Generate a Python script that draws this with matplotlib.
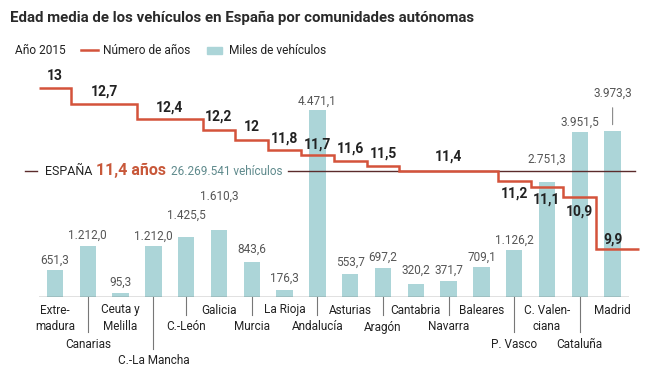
import numpy as np
import matplotlib.pyplot as plt

plt.rcParams['font.family'] = ['Liberation Sans Narrow', 'Roboto', 'DejaVu Sans']

# Data (Año 2015)
regions = ["Extre-\nmadura", "Canarias", "Ceuta y\nMelilla", "C.-La Mancha", "C.-León",
           "Galicia", "Murcia", "La Rioja", "Andalucía", "Asturias", "Aragón",
           "Cantabria", "Navarra", "Baleares", "P. Vasco", "C. Valen-\nciana",
           "Cataluña", "Madrid"]
vehicles = [651.3, 1212.0, 95.3, 1212.0, 1425.5, 1610.3, 843.6, 176.3, 4471.1,
            553.7, 697.2, 320.2, 371.7, 709.1, 1126.2, 2751.3, 3951.5, 3973.3]
years = [13, 12.7, 12.7, 12.4, 12.4, 12.2, 12, 11.8, 11.7, 11.6, 11.5,
         11.4, 11.4, 11.4, 11.2, 11.1, 10.9, 9.9]
spain_years = 11.4
spain_vehicles = "26.269.541"

# layout tweaks (pixels)
label_row = [1, 3, 1, 4, 2, 1, 2, 1, 2, 1, 2, 1, 2, 1, 3, 1, 3, 1]
bar_label_gap = [10, 11, 11, 10, 22, 33, 12, 11, 9, 12, 11, 13, 11, 10, 10, 23, 10, 38]
year_label_gap = [12, 12, 12, 12.5, 13, 12, 11, 12.5, 12, 14, -12, -13, -15, 9]

RED = '#d4533b'
TEAL = '#acd5d8'
DARK = '#222222'
GRAY = '#555555'


def es(v, dec=1):
    s = f"{v:,.{dec}f}"
    return s.replace(',', 'X').replace('.', ',').replace('X', '.')


def es_years(v):
    return f"{v:g}".replace('.', ',')


W, H, DPI = 664, 371, 100
PT = 0.72  # points per pixel
fig = plt.figure(figsize=(W / DPI, H / DPI), dpi=DPI)
renderer = fig.canvas.get_renderer()
x0, x1 = 38.6, 629.0
base_px, top_px = 297, 88
ax = fig.add_axes([x0 / W, (H - base_px) / H, (x1 - x0) / W, (base_px - top_px) / H])
ax.set_xlim(-0.5, 17.5)
ax.set_ylim(0, 5000)
ax.axis('off')
ax2 = ax.twinx()
ax2.set_ylim(13 - (base_px - top_px) / 51.875, 13)
ax2.axis('off')
ax_h = base_px - top_px

x = np.arange(len(regions))

# bars
ax.bar(x, vehicles, width=0.5, color=TEAL, zorder=2)
ax.axhline(0, color='#666666', lw=1, zorder=3)
for i, v in enumerate(vehicles):
    if regions[i] == "Madrid":
        ax.annotate(es(v), xy=(i, v), xytext=(0, bar_label_gap[i] * PT),
                    textcoords='offset points', ha='center', va='center',
                    fontsize=8.5, color=GRAY,
                    arrowprops=dict(arrowstyle='-', color='#888888', lw=0.8,
                                    shrinkA=4, shrinkB=4.5))
    else:
        ax.annotate(es(v), xy=(i, v), xytext=(0, bar_label_gap[i] * PT),
                    textcoords='offset points', ha='center', va='center',
                    fontsize=8.5, color=GRAY)

# category labels with tick lines
xt = ax.get_xaxis_transform()
for i, name in enumerate(regions):
    r = label_row[i]
    for k, line in enumerate(name.split('\n')):
        row_px = 13 + (r + k - 1) * 17
        ax.annotate(line, xy=(i, 0), xycoords=xt, xytext=(0, -row_px * PT),
                    textcoords='offset points', ha='center', va='center',
                    fontsize=8.5, color=DARK)
    if r > 1:
        end_px = 13 + (r - 1) * 17 - 12
        ax.plot([i, i], [0, -end_px / ax_h], transform=xt, color='#777777',
                lw=0.8, clip_on=False)

# Spain average line (short dash on the left)
ax2.axhline(spain_years, xmin=(25 - x0) / (x1 - x0), xmax=(37 - x0) / (x1 - x0),
            color='#5b2b2b', lw=1, zorder=4, clip_on=False)

# step line
edges = np.r_[x - 0.5, x[-1] + 0.8]
ax2.stairs(years, edges, baseline=None, color=RED, lw=1.8, zorder=5, clip_on=False)

# year labels (one per run of equal values)
groups = []
start = 0
for i in range(1, len(years) + 1):
    if i == len(years) or years[i] != years[start]:
        groups.append((start, i - 1, years[start]))
        start = i
for (a, b, v), gap in zip(groups, year_label_gap):
    ax2.annotate(es_years(v), xy=((a + b) / 2, v), xytext=(0, gap * PT),
                 textcoords='offset points', ha='center', va='center',
                 fontsize=10, fontweight='bold', color=DARK, zorder=6)

# title (fit to reference width) and legend
title = fig.text(10 / W, 1 - 22 / H,
                 "Edad media de los vehículos en España por comunidades autónomas",
                 fontsize=13, fontweight='bold', color='#2a2a2a', va='baseline')
tw = title.get_window_extent(renderer).width
title.set_fontsize(13 * 466 / tw)

fig.text(15 / W, 1 - 54.5 / H, "Año 2015", fontsize=8.6, color=DARK, va='baseline')
fig.add_artist(plt.Line2D([81 / W, 98 / W], [1 - 50 / H, 1 - 50 / H], color=RED, lw=1.8))
fig.text(103 / W, 1 - 54.5 / H, "Número de años", fontsize=8.6, color=DARK, va='baseline')
fig.add_artist(plt.Rectangle((207 / W, 1 - 54 / H), 15 / W, 7.5 / H, color=TEAL,
                             transform=fig.transFigure))
fig.text(229 / W, 1 - 54.5 / H, "Miles de vehículos", fontsize=8.6, color=DARK, va='baseline')

# ESPAÑA row, chained text then the reference line
yb = 1 - 175 / H
t1 = fig.text(45 / W, yb, "ESPAÑA", fontsize=9, color=DARK, va='baseline')
e = t1.get_window_extent(renderer)
t2 = fig.text((e.x1 + 4) / W, yb, f"{es_years(spain_years)} años", fontsize=11.5,
              fontweight='bold', color='#c8583a', va='baseline')
e = t2.get_window_extent(renderer)
t3 = fig.text((e.x1 + 5) / W, yb, f"{spain_vehicles} vehículos", fontsize=8.5,
              color='#5f8a8c', va='baseline')
e = t3.get_window_extent(renderer)
ax2.axhline(spain_years, xmin=(e.x1 + 5 - x0) / (x1 - x0), xmax=(635 - x0) / (x1 - x0),
            color='#5b2b2b', lw=1, zorder=4, clip_on=False)

fig.savefig('out.png', dpi=DPI)
